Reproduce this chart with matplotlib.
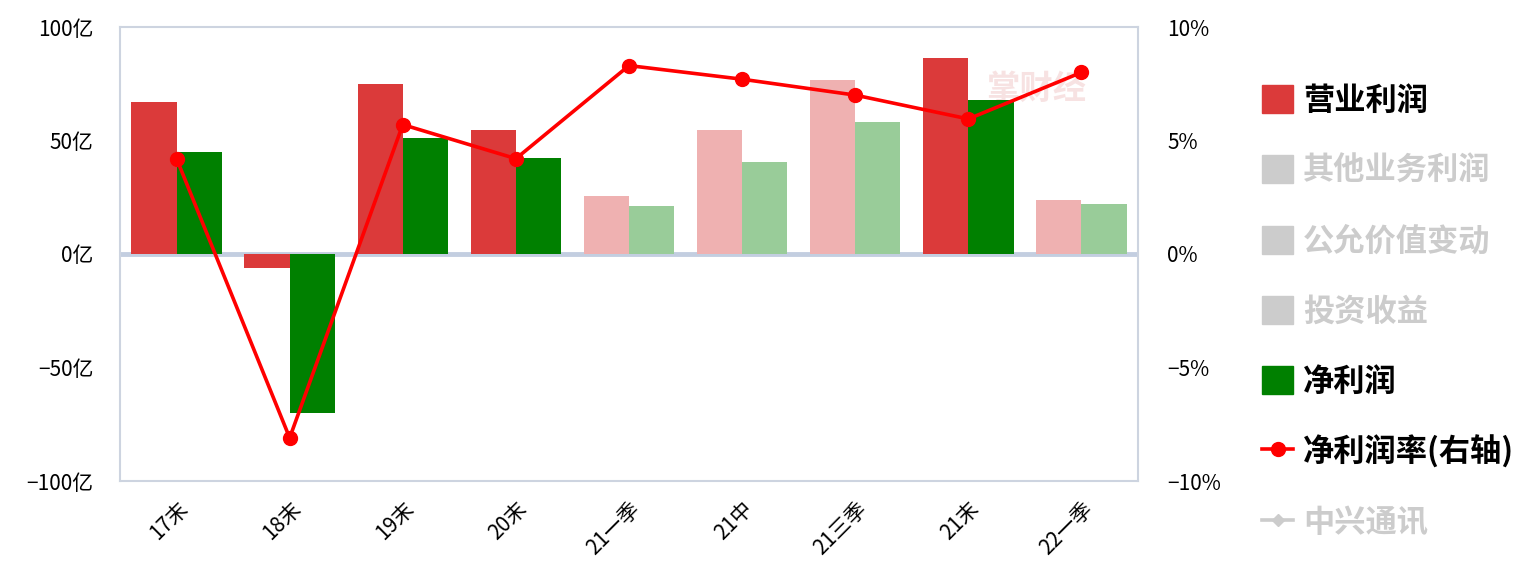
import matplotlib
matplotlib.use("Agg")
import matplotlib.pyplot as plt
import numpy as np
from matplotlib.patches import Patch
from matplotlib.lines import Line2D

plt.rcParams['font.family'] = ['Noto Sans CJK SC', 'DejaVu Sans']
plt.rcParams['axes.unicode_minus'] = False

# ── Data ────────────────────────────────────────────────────────────────
periods = ["17末", "18末", "19末", "20末", "21一季", "21中", "21三季", "21末", "22一季"]
op_profit = [67.0, -6.0, 75.0, 54.5, 25.5, 54.5, 76.5, 86.5, 24.0]      # 亿
net_profit = [45.0, -70.0, 51.0, 42.5, 21.0, 40.5, 58.0, 68.0, 22.0]    # 亿
net_margin = [4.2, -8.1, 5.7, 4.2, 8.3, 7.7, 7.0, 5.95, 8.0]            # %
faded = [False, False, False, False, True, True, True, False, True]

left_ticks = [-100, -50, 0, 50, 100]
right_ticks = [-10, -5, 0, 5, 10]

RED, RED_L = "#DB3A3A", "#EFB1B1"
GREEN, GREEN_L = "#008000", "#99CC99"
LINE_RED = "#FF0000"
SPINE = "#CDD4E0"
GREY = "#CCCCCC"


def fmt(v, unit):
    return (f"\u2212{abs(v)}" if v < 0 else f"{v}") + unit


W, H = 1538, 587
fig = plt.figure(figsize=(W / 100, H / 100), dpi=100)
ax = fig.add_axes([120 / W, 1 - 481 / H, 1018 / W, 454 / H])

x = np.arange(len(periods))
bw = 0.4
ax.bar(x - bw / 2, op_profit, bw,
       color=[RED_L if f else RED for f in faded], zorder=2)
ax.bar(x + bw / 2, net_profit, bw,
       color=[GREEN_L if f else GREEN for f in faded], zorder=2)
ax.axhline(0, color="#C3CEE0", lw=3.5, zorder=1)

ax.set_xlim(-0.5, len(periods) - 0.5)
ax.set_ylim(-100, 100)
ax.set_yticks(left_ticks)
ax.set_yticklabels([fmt(v, "亿") for v in left_ticks])
ax.set_xticks(x)
ax.set_xticklabels(periods, rotation=45, ha="right", rotation_mode="anchor")
ax.tick_params(axis="y", length=0, labelsize=15, colors="black", pad=19)
ax.tick_params(axis="x", length=0, labelsize=15, colors="black", pad=12)
for s in ax.spines.values():
    s.set_color(SPINE)
    s.set_linewidth(1.5)

# watermark
ax.text(0.90, 0.862, "掌财经", transform=ax.transAxes, fontsize=24,
        fontweight="bold", color="#F2D0D0", alpha=0.6, ha="center",
        va="center", zorder=0)

ax2 = ax.twinx()
ax2.plot(x, net_margin, color=LINE_RED, lw=2.6, marker="o", ms=10, zorder=5)
ax2.set_ylim(-10, 10)
ax2.set_yticks(right_ticks)
ax2.set_yticklabels([fmt(v, "%") for v in right_ticks])
ax2.tick_params(axis="y", length=0, labelsize=15, pad=21)
for s in ax2.spines.values():
    s.set_visible(False)

# ── Legend ──────────────────────────────────────────────────────────────
handles = [
    Patch(color=RED),
    Patch(color=GREY),
    Patch(color=GREY),
    Patch(color=GREY),
    Patch(color=GREEN),
    Line2D([], [], color=LINE_RED, lw=2.6, marker="o", ms=10),
    Line2D([], [], color=GREY, lw=2.6, marker="D", ms=6),
]
labels = ["营业利润", "其他业务利润", "公允价值变动", "投资收益",
          "净利润", "净利润率(右轴)", "中兴通讯"]
active = [True, False, False, False, True, True, False]
leg = fig.legend(handles, labels, loc="upper left",
                 bbox_to_anchor=(1262 / W, 1 - 85 / H), frameon=False,
                 prop={"size": 22.5, "weight": "bold"},
                 handlelength=1.0, handleheight=1.0, handletextpad=0.32,
                 labelspacing=1.22, borderpad=0, borderaxespad=0)
for t, a in zip(leg.get_texts(), active):
    t.set_color("black" if a else GREY)

fig.savefig("out.png", dpi=100)
